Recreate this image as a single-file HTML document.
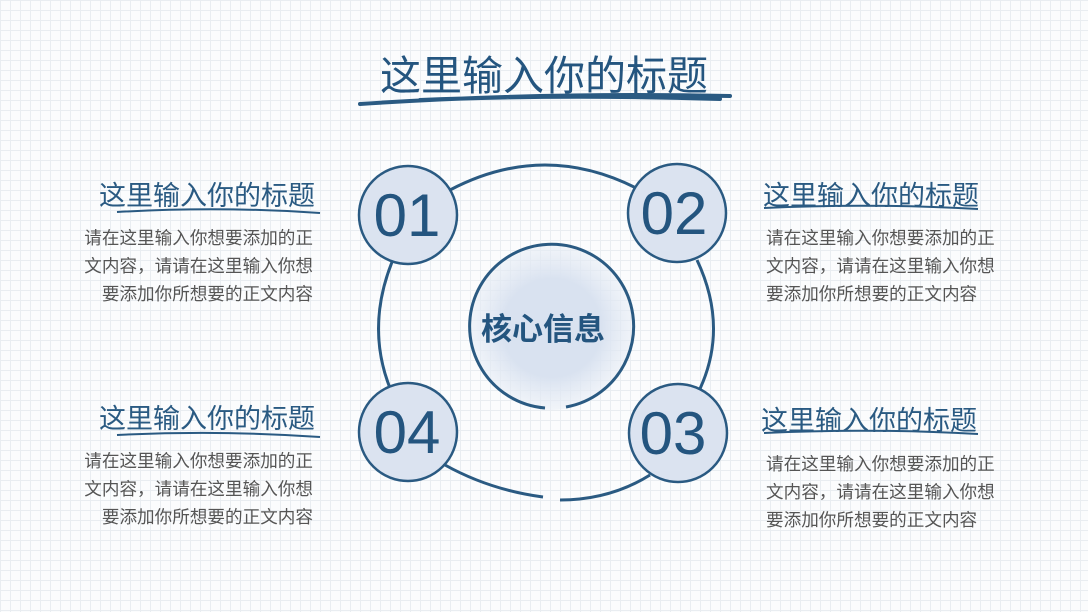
<!DOCTYPE html>
<html><head><meta charset="utf-8"><style>
body{margin:0;width:1088px;height:612px;overflow:hidden;font-family:"Liberation Sans","Noto Sans CJK SC",sans-serif;
background-color:#fbfcfd;background-image:linear-gradient(#e9edf1 1px,transparent 1px),linear-gradient(90deg,#e9edf1 1px,transparent 1px);background-size:10px 10px;position:relative}
.t{position:absolute;color:#2a5a82;font-size:27px;white-space:nowrap}
.b{position:absolute;color:#555;font-size:17.6px;line-height:28px;width:250px;white-space:nowrap}
.l{text-align:right}
</style></head><body>
<div style="position:absolute;left:0;width:1088px;top:42px;text-align:center;font-size:41px;color:#24557f">这里输入你的标题</div>
<svg width="1088" height="612" style="position:absolute;left:0;top:0">
<defs><radialGradient id="g"><stop offset="0.6" stop-color="#d9e2f0"/><stop offset="1" stop-color="#e6ecf5" stop-opacity="0.5"/></radialGradient></defs>
<path d="M360 104 Q540 92 730 96 M420 100 Q560 94 720 99" stroke="#2a5a82" stroke-width="4" fill="none" stroke-linecap="round"/>
<g stroke="#2a5a82" stroke-width="3" fill="none">
<path d="M450 190 Q545 140 640 190"/>
<path d="M697 260 Q730 330 697 395"/>
<path d="M650 475 Q610 500 560 500"/>
<path d="M543 497 Q490 490 445 465"/>
<path d="M392 393 Q365 330 392 262"/>
</g>
<circle cx="552" cy="328" r="82" fill="url(#g)"/>
<path d="M545 408 A82 82 0 1 1 566 407" stroke="#2a5a82" stroke-width="3" fill="none"/>
<g fill="#dbe3f0" stroke="#2a5a82" stroke-width="2.5">
<circle cx="408" cy="215" r="49"/><circle cx="677" cy="213" r="49"/>
<circle cx="678" cy="433" r="49"/><circle cx="408" cy="432" r="49"/>
</g>
<g fill="#24557f" font-size="60" text-anchor="middle" font-family="Liberation Sans,sans-serif">
<text x="407" y="236">01</text><text x="674" y="234">02</text>
<text x="673" y="454">03</text><text x="407" y="453">04</text>
</g>
<text x="543" y="340" fill="#24557f" font-size="31" font-weight="bold" text-anchor="middle" font-family="Liberation Sans,Noto Sans CJK SC,sans-serif">核心信息</text>
<g stroke="#2a5a82" stroke-width="2" fill="none">
<path d="M117 212 Q220 206 320 213"/><path d="M117 435 Q220 430 320 437"/>
<path d="M764 208 Q870 203 978 209"/><path d="M764 433 Q870 428 978 434"/>
</g>
</svg>
<div class="t" style="left:99px;top:174px">这里输入你的标题</div>
<div class="b l" style="left:63px;top:224px">请在这里输入你想要添加的正<br>文内容，请请在这里输入你想<br>要添加你所想要的正文内容</div>
<div class="t" style="left:99px;top:397px">这里输入你的标题</div>
<div class="b l" style="left:63px;top:447px">请在这里输入你想要添加的正<br>文内容，请请在这里输入你想<br>要添加你所想要的正文内容</div>
<div class="t" style="left:763px;top:174px">这里输入你的标题</div>
<div class="b" style="left:766px;top:224px">请在这里输入你想要添加的正<br>文内容，请请在这里输入你想<br>要添加你所想要的正文内容</div>
<div class="t" style="left:761px;top:399px">这里输入你的标题</div>
<div class="b" style="left:766px;top:450px">请在这里输入你想要添加的正<br>文内容，请请在这里输入你想<br>要添加你所想要的正文内容</div>
</body></html>
